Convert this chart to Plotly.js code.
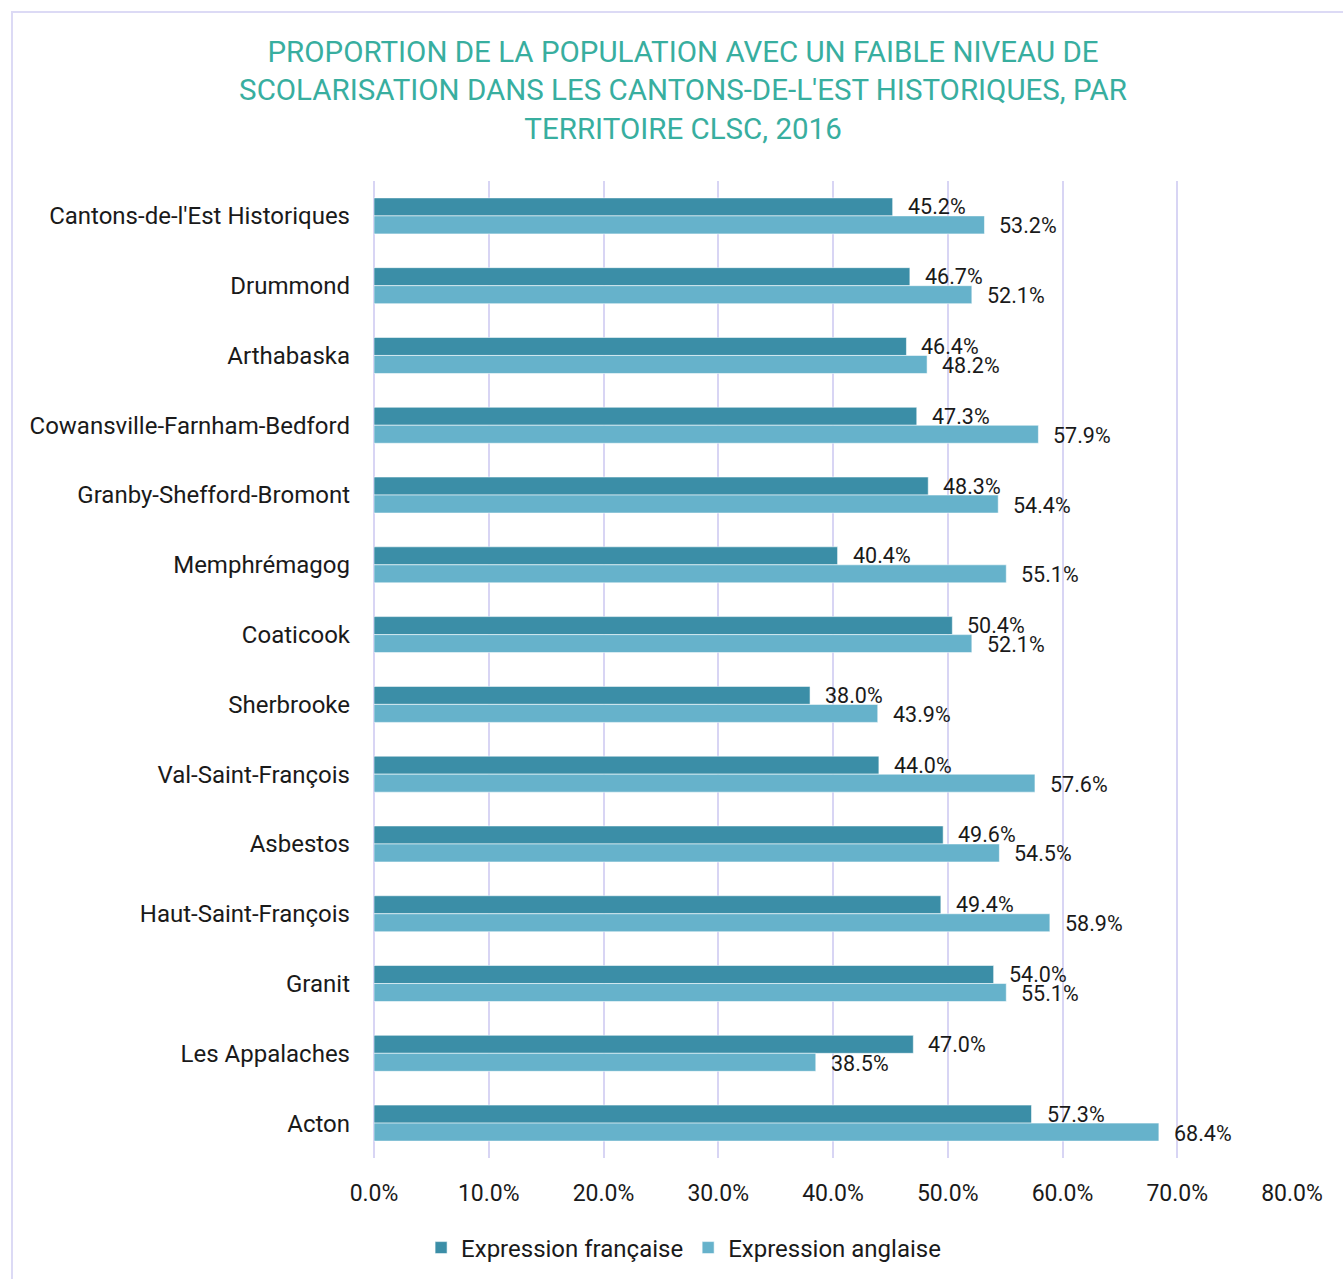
<!DOCTYPE html>
<html>
<head>
<meta charset="utf-8">
<script src="https://cdn.plot.ly/plotly-3.0.1.min.js"></script>
<style>
  html, body { margin: 0; padding: 0; background: #fff; }
  #frame { position: absolute; left: 11px; top: 11px; width: 1400px; height: 1400px;
           border-left: 2px solid #dcdaf5; border-top: 2px solid #dcdaf5; box-sizing: border-box; }
  #chart { position: absolute; left: 0; top: 0; width: 1343px; height: 1279px; }
</style>
</head>
<body>
<div id="frame"></div>
<div id="chart"></div>
<script>
const categories = [
  "Cantons-de-l'Est Historiques", "Drummond", "Arthabaska", "Cowansville-Farnham-Bedford",
  "Granby-Shefford-Bromont", "Memphrémagog", "Coaticook", "Sherbrooke", "Val-Saint-François",
  "Asbestos", "Haut-Saint-François", "Granit", "Les Appalaches", "Acton"
];
const francaise = [45.2, 46.7, 46.4, 47.3, 48.3, 40.4, 50.4, 38.0, 44.0, 49.6, 49.4, 54.0, 47.0, 57.3];
const anglaise  = [53.2, 52.1, 48.2, 57.9, 54.4, 55.1, 52.1, 43.9, 57.6, 54.5, 58.9, 55.1, 38.5, 68.4];
const seriesNames = ["Expression française", "Expression anglaise"];
const xTickVals = [0, 10, 20, 30, 40, 50, 60, 70, 80];

const colFr = "#3b8ea7";
const colEn = "#66b2cb";
const font = "Roboto, 'Noto Sans', sans-serif";

const traces = [
  { type: "bar", orientation: "h", name: seriesNames[0], y: categories, x: francaise,
    marker: { color: colFr, line: { color: "rgba(255,255,255,0.55)", width: 1 } }, hoverinfo: "x+y" },
  { type: "bar", orientation: "h", name: seriesNames[1], y: categories, x: anglaise,
    marker: { color: colEn, line: { color: "rgba(255,255,255,0.55)", width: 1 } }, hoverinfo: "x+y" }
];

const annotations = [];
categories.forEach((c, i) => {
  annotations.push({ x: francaise[i], y: c, xref: "x", yref: "y", text: francaise[i].toFixed(1) + "%",
    showarrow: false, xanchor: "left", yanchor: "middle", xshift: 13, yshift: 9,
    font: { family: font, size: 21.5, color: "#1a1a1a" } });
  annotations.push({ x: anglaise[i], y: c, xref: "x", yref: "y", text: anglaise[i].toFixed(1) + "%",
    showarrow: false, xanchor: "left", yanchor: "middle", xshift: 13, yshift: -10,
    font: { family: font, size: 21.5, color: "#1a1a1a" } });
});

const layout = {
  width: 1343, height: 1279,
  paper_bgcolor: "rgba(0,0,0,0)", plot_bgcolor: "rgba(0,0,0,0)",
  margin: { l: 374, r: 51, t: 181, b: 121, pad: 0 },
  title: {
    text: "PROPORTION DE LA POPULATION AVEC UN FAIBLE NIVEAU DE<br>SCOLARISATION DANS LES CANTONS-DE-L'EST HISTORIQUES, PAR<br>TERRITOIRE CLSC, 2016",
    font: { family: font, size: 29.5, color: "#38ae9f" },
    x: 0.5086, xanchor: "center", xref: "container",
    y: 1 - 62 / 1279, yanchor: "top", yref: "container"
  },
  barmode: "group", bargap: 0.484, bargroupgap: 0,
  xaxis: {
    range: [0, 80], tickvals: xTickVals, ticktext: xTickVals.map(v => v.toFixed(1) + "%"),
    showgrid: true, gridcolor: "#d8d5f4", gridwidth: 2,
    zeroline: true, zerolinecolor: "#d8d5f4", zerolinewidth: 2,
    showline: false, ticks: "", ticklabelstandoff: 19,
    tickfont: { family: font, size: 23, color: "#1a1a1a" }, fixedrange: true
  },
  yaxis: {
    type: "category", autorange: "reversed", showgrid: false, zeroline: false, showline: false,
    ticks: "", ticklabelstandoff: 23,
    tickfont: { family: font, size: 24, color: "#1a1a1a" }, fixedrange: true
  },
  legend: {
    orientation: "h", xref: "container", yref: "container", x: 0.509, xanchor: "center",
    y: 1 - 1248 / 1279, yanchor: "middle",
    font: { family: font, size: 24, color: "#1a1a1a" }, traceorder: "normal", itemwidth: 30
  },
  annotations: annotations,
  showlegend: true
};

Plotly.newPlot("chart", traces, layout, { displayModeBar: false, staticPlot: true });
</script>
</body>
</html>
